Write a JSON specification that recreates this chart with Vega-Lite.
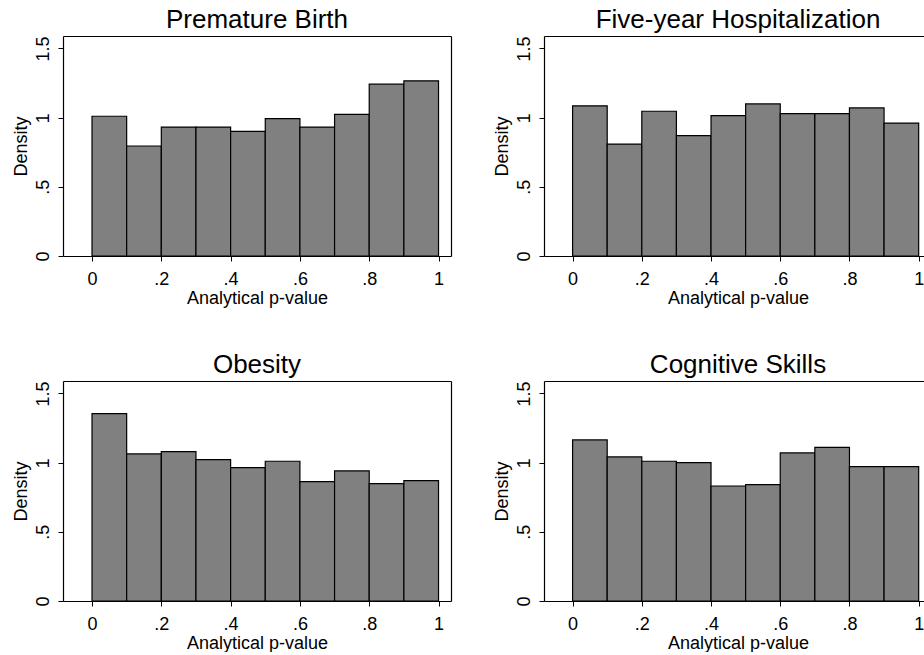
{
  "$schema": "https://vega.github.io/schema/vega-lite/v6.json",
  "autosize": {"type": "pad"},
  "padding": {"left": 12, "top": 6, "right": 0, "bottom": 0},
  "background": "white",
  "datasets": {
    "premature": [
      {"lo": 0.0, "hi": 0.1, "density": 1.01},
      {"lo": 0.1, "hi": 0.2, "density": 0.795},
      {"lo": 0.2, "hi": 0.3, "density": 0.932},
      {"lo": 0.3, "hi": 0.4, "density": 0.932},
      {"lo": 0.4, "hi": 0.5, "density": 0.90},
      {"lo": 0.5, "hi": 0.6, "density": 0.993},
      {"lo": 0.6, "hi": 0.7, "density": 0.932},
      {"lo": 0.7, "hi": 0.8, "density": 1.024},
      {"lo": 0.8, "hi": 0.9, "density": 1.242},
      {"lo": 0.9, "hi": 1.0, "density": 1.266}
    ],
    "hosp": [
      {"lo": 0.0, "hi": 0.1, "density": 1.085},
      {"lo": 0.1, "hi": 0.2, "density": 0.809},
      {"lo": 0.2, "hi": 0.3, "density": 1.046},
      {"lo": 0.3, "hi": 0.4, "density": 0.870},
      {"lo": 0.4, "hi": 0.5, "density": 1.014},
      {"lo": 0.5, "hi": 0.6, "density": 1.099},
      {"lo": 0.6, "hi": 0.7, "density": 1.029},
      {"lo": 0.7, "hi": 0.8, "density": 1.029},
      {"lo": 0.8, "hi": 0.9, "density": 1.070},
      {"lo": 0.9, "hi": 1.0, "density": 0.961}
    ],
    "obesity": [
      {"lo": 0.0, "hi": 0.1, "density": 1.354},
      {"lo": 0.1, "hi": 0.2, "density": 1.063},
      {"lo": 0.2, "hi": 0.3, "density": 1.080},
      {"lo": 0.3, "hi": 0.4, "density": 1.022},
      {"lo": 0.4, "hi": 0.5, "density": 0.964},
      {"lo": 0.5, "hi": 0.6, "density": 1.010},
      {"lo": 0.6, "hi": 0.7, "density": 0.863},
      {"lo": 0.7, "hi": 0.8, "density": 0.940},
      {"lo": 0.8, "hi": 0.9, "density": 0.848},
      {"lo": 0.9, "hi": 1.0, "density": 0.870}
    ],
    "cognitive": [
      {"lo": 0.0, "hi": 0.1, "density": 1.164},
      {"lo": 0.1, "hi": 0.2, "density": 1.041},
      {"lo": 0.2, "hi": 0.3, "density": 1.010},
      {"lo": 0.3, "hi": 0.4, "density": 1.000},
      {"lo": 0.4, "hi": 0.5, "density": 0.831},
      {"lo": 0.5, "hi": 0.6, "density": 0.841},
      {"lo": 0.6, "hi": 0.7, "density": 1.070},
      {"lo": 0.7, "hi": 0.8, "density": 1.111},
      {"lo": 0.8, "hi": 0.9, "density": 0.971},
      {"lo": 0.9, "hi": 1.0, "density": 0.971}
    ]
  },
  "columns": 2,
  "spacing": {"row": 125, "column": 93},
  "bounds": "flush",
  "concat": [
    {
      "width": 388, "height": 220,
      "title": {"text": "Premature Birth"},
      "data": {"name": "premature"},
      "layer": [
        {
          "mark": {"type": "bar", "fill": "#808080", "stroke": "#000000", "strokeWidth": 1.2},
          "encoding": {
            "x": {"field": "lo", "type": "quantitative", "scale": {"domain": [-0.0837, 1.036], "nice": false, "zero": false},
              "axis": {"orient": "bottom", "title": "Analytical p-value", "values": [0, 0.2, 0.4, 0.6, 0.8, 1], "labelExpr": "datum.value == 0 ? '0' : datum.value == 1 ? '1' : replace(format(datum.value, '.1f'), '0.', '.')", "labelBaseline": "alphabetic", "labelPadding": 23, "titleBaseline": "alphabetic", "titleY": 47}},
            "x2": {"field": "hi"},
            "y": {"field": "density", "type": "quantitative", "stack": null, "scale": {"domain": [0, 1.59], "nice": false, "zero": false},
              "axis": {"orient": "left", "title": "Density", "values": [0, 0.5, 1, 1.5], "labelExpr": "datum.value == 0 ? '0' : datum.value == 0.5 ? '.5' : datum.value == 1 ? '1' : '1.5'", "labelAngle": -90, "labelAlign": "center", "labelBaseline": "alphabetic", "labelPadding": 10, "titleBaseline": "alphabetic", "titleX": -37, "titleY": 110, "titleAlign": "center", "titleAngle": -90}},
            "y2": {"datum": 0}
          }
        },
        {
          "mark": {"type": "rule", "opacity": 0},
          "encoding": {
            "x": {"field": "lo", "type": "quantitative", "scale": {"domain": [-0.0837, 1.036], "nice": false, "zero": false}, "axis": {"orient": "top", "labels": false, "ticks": false, "title": null, "domain": true}},
            "y": {"field": "density", "type": "quantitative", "scale": {"domain": [0, 1.59], "nice": false, "zero": false}, "axis": {"orient": "right", "labels": false, "ticks": false, "title": null, "domain": true}}
          }
        }
      ],
      "resolve": {"axis": {"x": "independent", "y": "independent"}}
    },
    {
      "width": 380, "height": 220,
      "title": {"text": "Five-year Hospitalization", "dx": 4},
      "data": {"name": "hosp"},
      "layer": [
        {
          "mark": {"type": "bar", "fill": "#808080", "stroke": "#000000", "strokeWidth": 1.2},
          "encoding": {
            "x": {"field": "lo", "type": "quantitative", "scale": {"domain": [-0.0826, 1.0154], "nice": false, "zero": false},
              "axis": {"orient": "bottom", "title": "Analytical p-value", "values": [0, 0.2, 0.4, 0.6, 0.8, 1], "labelExpr": "datum.value == 0 ? '0' : datum.value == 1 ? '1' : replace(format(datum.value, '.1f'), '0.', '.')", "labelBaseline": "alphabetic", "labelPadding": 23, "titleBaseline": "alphabetic", "titleY": 47, "titleX": 194}},
            "x2": {"field": "hi"},
            "y": {"field": "density", "type": "quantitative", "stack": null, "scale": {"domain": [0, 1.59], "nice": false, "zero": false},
              "axis": {"orient": "left", "title": "Density", "values": [0, 0.5, 1, 1.5], "labelExpr": "datum.value == 0 ? '0' : datum.value == 0.5 ? '.5' : datum.value == 1 ? '1' : '1.5'", "labelAngle": -90, "labelAlign": "center", "labelBaseline": "alphabetic", "labelPadding": 10, "titleBaseline": "alphabetic", "titleX": -37, "titleY": 110, "titleAlign": "center", "titleAngle": -90}},
            "y2": {"datum": 0}
          }
        },
        {
          "mark": {"type": "rule", "opacity": 0},
          "encoding": {
            "x": {"field": "lo", "type": "quantitative", "scale": {"domain": [-0.0826, 1.0154], "nice": false, "zero": false}, "axis": {"orient": "top", "labels": false, "ticks": false, "title": null, "domain": true}},
            "y": {"field": "density", "type": "quantitative", "scale": {"domain": [0, 1.59], "nice": false, "zero": false}}
          }
        }
      ],
      "resolve": {"axis": {"x": "independent"}}
    },
    {
      "width": 388, "height": 220,
      "title": {"text": "Obesity"},
      "data": {"name": "obesity"},
      "layer": [
        {
          "mark": {"type": "bar", "fill": "#808080", "stroke": "#000000", "strokeWidth": 1.2},
          "encoding": {
            "x": {"field": "lo", "type": "quantitative", "scale": {"domain": [-0.0837, 1.036], "nice": false, "zero": false},
              "axis": {"orient": "bottom", "title": "Analytical p-value", "values": [0, 0.2, 0.4, 0.6, 0.8, 1], "labelExpr": "datum.value == 0 ? '0' : datum.value == 1 ? '1' : replace(format(datum.value, '.1f'), '0.', '.')", "labelBaseline": "alphabetic", "labelPadding": 23, "titleBaseline": "alphabetic", "titleY": 47}},
            "x2": {"field": "hi"},
            "y": {"field": "density", "type": "quantitative", "stack": null, "scale": {"domain": [0, 1.59], "nice": false, "zero": false},
              "axis": {"orient": "left", "title": "Density", "values": [0, 0.5, 1, 1.5], "labelExpr": "datum.value == 0 ? '0' : datum.value == 0.5 ? '.5' : datum.value == 1 ? '1' : '1.5'", "labelAngle": -90, "labelAlign": "center", "labelBaseline": "alphabetic", "labelPadding": 10, "titleBaseline": "alphabetic", "titleX": -37, "titleY": 110, "titleAlign": "center", "titleAngle": -90}},
            "y2": {"datum": 0}
          }
        },
        {
          "mark": {"type": "rule", "opacity": 0},
          "encoding": {
            "x": {"field": "lo", "type": "quantitative", "scale": {"domain": [-0.0837, 1.036], "nice": false, "zero": false}, "axis": {"orient": "top", "labels": false, "ticks": false, "title": null, "domain": true}},
            "y": {"field": "density", "type": "quantitative", "scale": {"domain": [0, 1.59], "nice": false, "zero": false}, "axis": {"orient": "right", "labels": false, "ticks": false, "title": null, "domain": true}}
          }
        }
      ],
      "resolve": {"axis": {"x": "independent", "y": "independent"}}
    },
    {
      "width": 380, "height": 220,
      "title": {"text": "Cognitive Skills", "dx": 4},
      "data": {"name": "cognitive"},
      "layer": [
        {
          "mark": {"type": "bar", "fill": "#808080", "stroke": "#000000", "strokeWidth": 1.2},
          "encoding": {
            "x": {"field": "lo", "type": "quantitative", "scale": {"domain": [-0.0826, 1.0154], "nice": false, "zero": false},
              "axis": {"orient": "bottom", "title": "Analytical p-value", "values": [0, 0.2, 0.4, 0.6, 0.8, 1], "labelExpr": "datum.value == 0 ? '0' : datum.value == 1 ? '1' : replace(format(datum.value, '.1f'), '0.', '.')", "labelBaseline": "alphabetic", "labelPadding": 23, "titleBaseline": "alphabetic", "titleY": 47, "titleX": 194}},
            "x2": {"field": "hi"},
            "y": {"field": "density", "type": "quantitative", "stack": null, "scale": {"domain": [0, 1.59], "nice": false, "zero": false},
              "axis": {"orient": "left", "title": "Density", "values": [0, 0.5, 1, 1.5], "labelExpr": "datum.value == 0 ? '0' : datum.value == 0.5 ? '.5' : datum.value == 1 ? '1' : '1.5'", "labelAngle": -90, "labelAlign": "center", "labelBaseline": "alphabetic", "labelPadding": 10, "titleBaseline": "alphabetic", "titleX": -37, "titleY": 110, "titleAlign": "center", "titleAngle": -90}},
            "y2": {"datum": 0}
          }
        },
        {
          "mark": {"type": "rule", "opacity": 0},
          "encoding": {
            "x": {"field": "lo", "type": "quantitative", "scale": {"domain": [-0.0826, 1.0154], "nice": false, "zero": false}, "axis": {"orient": "top", "labels": false, "ticks": false, "title": null, "domain": true}},
            "y": {"field": "density", "type": "quantitative", "scale": {"domain": [0, 1.59], "nice": false, "zero": false}}
          }
        }
      ],
      "resolve": {"axis": {"x": "independent"}}
    }
  ],
  "config": {
    "font": "Liberation Sans",
    "view": {"stroke": null},
    "axis": {
      "grid": false,
      "labelFont": "Liberation Sans",
      "labelFontSize": 18,
      "labelColor": "#000000",
      "titleFont": "Liberation Sans",
      "titleFontSize": 18,
      "titleFontWeight": "normal",
      "titleColor": "#000000",
      "domainColor": "#000000",
      "domainWidth": 1.2,
      "tickColor": "#000000",
      "tickSize": 5,
      "tickWidth": 1
    },
    "title": {
      "font": "Liberation Sans",
      "fontSize": 26,
      "fontWeight": "normal",
      "color": "#000000",
      "baseline": "alphabetic",
      "offset": 3,
      "anchor": "middle",
      "frame": "group"
    }
  }
}
